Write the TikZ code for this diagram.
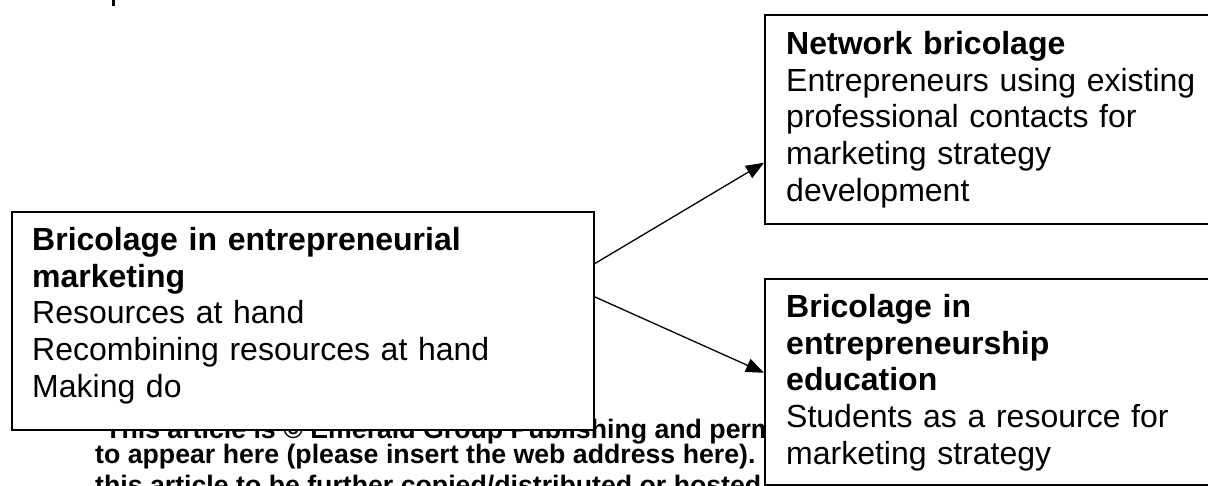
\documentclass[tikz,border=0pt]{standalone}
\usepackage{fontspec}
\setmainfont{Liberation Sans}
\usetikzlibrary{arrows.meta}
\tikzset{
  box/.style={draw, line width=1.5pt, fill=white, anchor=north west, inner sep=0pt},
  boxtext/.style={anchor=north west, inner sep=0pt, text width=560pt, align=left,
    font=\fontsize{32}{36.8}\selectfont},
  flow/.style={line width=1.3pt, -{Triangle[length=18pt,width=14pt]}},
  pagetext/.style={anchor=base west, inner sep=0pt, font=\fontsize{26.7}{25}\selectfont\bfseries}
}
\begin{document}
\begin{tikzpicture}[x=1pt,y=-1pt]
    \useasboundingbox (0,0) rectangle (1208,485);
    \clip (0,0) rectangle (1208,485);
    % page text behind the figure
    \fill (112,0) rectangle (114.5,6);
    \node[pagetext] (copy1) at (105,438) {This article is © Emerald Group Publishing and perm};
    \node[pagetext] (copy2) at (95,463) {to appear here (please insert the web address here).};
    \node[pagetext] (copy3) at (95,494) {this article to be further copied/distributed or hosted};
    % boxes
    \node[box, minimum width=582pt, minimum height=218pt] (mkt) at (11,211) {};
    \node[box, minimum width=480pt, minimum height=209pt] (net) at (764,14) {};
    \node[box, minimum width=480pt, minimum height=206pt] (edu) at (764,278) {};
    \node[boxtext] (mkttext) at (32,224.24) {\strut\textbf{Bricolage in entrepreneurial}\\
        \textbf{marketing}\\ Resources at hand\\ Recombining resources at hand\\ Making do};
    \node[boxtext] (nettext) at (786,28.24) {\strut\textbf{Network bricolage}\\
        Entrepreneurs using existing\\ professional contacts for\\ marketing strategy\\ development};
    \node[boxtext] (edutext) at (786,291.24) {\strut\textbf{Bricolage in}\\
        \textbf{entrepreneurship}\\ \textbf{education}\\ Students as a resource for\\ marketing strategy};
    % arrows
    \draw[flow] ([yshift=57pt]mkt.east) -- ([yshift=-43.5pt]net.west);
    \draw[flow] ([yshift=24pt]mkt.east) -- ([yshift=9pt]edu.west);
\end{tikzpicture}
\end{document}
